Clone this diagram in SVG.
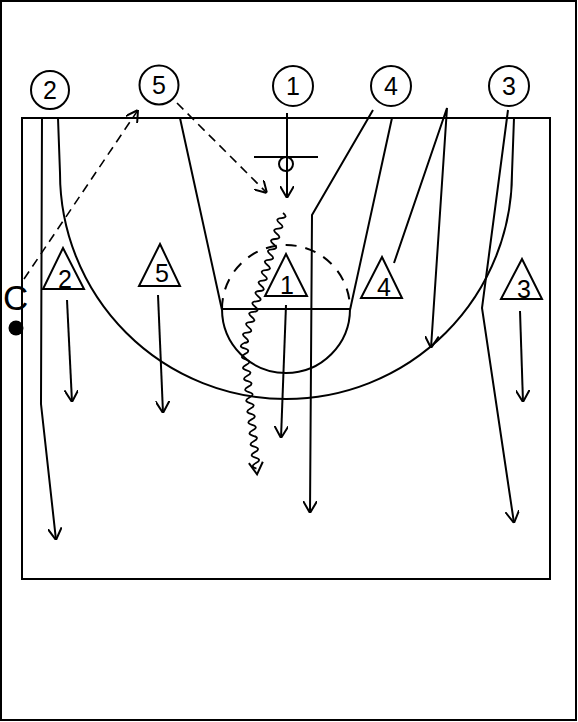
<svg xmlns="http://www.w3.org/2000/svg" width="578" height="722" viewBox="0 0 578 722">
<style>
.ln{fill:none;stroke:#000;stroke-width:2}
.dash{fill:none;stroke:#000;stroke-width:1.6;stroke-dasharray:9,6}
.off{fill:#fff;stroke:#000;stroke-width:2}
.def{fill:#fff;stroke:#000;stroke-width:2;stroke-linejoin:miter}
.num{font-family:"Liberation Sans",Arial,sans-serif;font-size:25px;fill:#000;text-anchor:middle}
.wave{fill:none;stroke:#000;stroke-width:1.8}
</style>
<defs>
<marker id="arr" viewBox="0 0 12 14" refX="12" refY="7" markerWidth="12" markerHeight="14" markerUnits="userSpaceOnUse" orient="auto">
<path d="M0,0 L12,7 L0,14" fill="none" stroke="#000" stroke-width="2" stroke-dasharray="none"/>
</marker>
</defs>
<rect x="1" y="1" width="575" height="719" fill="#fff" stroke="#000" stroke-width="2"/>
<g id="court">
<rect x="22" y="118" width="528" height="461" class="ln"/>
<path class="ln" d="M180,118 L222,310"/>
<path class="ln" d="M392,118 L350,310"/>
<path class="ln" d="M222,309 L350,309"/>
<path class="ln" d="M222,309 A64,64 0 0 0 350,309"/>
<path fill="none" stroke="#000" stroke-width="2" stroke-dasharray="11,9" d="M222,309 A64,64 0 0 1 350,309"/>
<path class="ln" stroke-width="1.8" d="M58,118 L60,173 A226,226 0 0 0 512,173 L514,118"/>
<path class="ln" d="M254,157 L318,157"/>
<circle cx="286" cy="164" r="7" class="ln"/>
</g>
<g id="connectors">
<path class="ln" marker-end="url(#arr)" d="M42,117 L41,404 L56,540"/>
<path class="dash" marker-end="url(#arr)" d="M24,279 L138,110"/>
<path class="dash" marker-end="url(#arr)" d="M177,103 L267,193"/>
<path class="ln" marker-end="url(#arr)" d="M287,113 L287,198"/>
<path class="ln" marker-end="url(#arr)" d="M373,110 L312,215 L310,513"/>
<path class="ln" marker-end="url(#arr)" d="M394,263 L447,108 L431,348"/>
<path class="ln" marker-end="url(#arr)" d="M508,110 L482,308 L514,523"/>
<path class="ln" marker-end="url(#arr)" d="M67,300 L72,402"/>
<path class="ln" marker-end="url(#arr)" d="M158,295 L163,413"/>
<path class="ln" marker-end="url(#arr)" d="M286,305 L281,438"/>
<path class="ln" marker-end="url(#arr)" d="M520,311 L523,402"/>
<g id="dribble">
<g transform="translate(283,213) rotate(106.7)">
<path class="wave" d="M0,0 q2.714,-7 5.428,0 t5.428,0 t5.428,0 t5.428,0 t5.428,0 t5.428,0 t5.428,0 t5.428,0 t5.428,0 t5.428,0 t5.428,0 t5.428,0 t5.428,0 t5.428,0 t5.428,0 t5.428,0 t5.428,0 t5.428,0 t5.428,0 t5.428,0 t5.428,0 t5.428,0 t5.428,0 t5.428,0 t5.428,0"/>
</g>
<g transform="translate(244,343) rotate(84.33)">
<path class="wave" d="M0,0 q2.742,7 5.484,0 t5.484,0 t5.484,0 t5.484,0 t5.484,0 t5.484,0 t5.484,0 t5.484,0 t5.484,0 t5.484,0 t5.484,0 t5.484,0 t5.484,0 t5.484,0 t5.484,0 t5.484,0 t5.484,0 t5.484,0 t5.484,0 t5.484,0 t5.484,0 t5.484,0 t5.484,0"/>
<path class="ln" d="M120,-7 L132,0 L120,7"/>
</g>
</g>
</g>
<g id="coach">
<text x="3" y="310" font-family="Liberation Sans, Arial, sans-serif" font-size="35" fill="#000">C</text>
<circle cx="16" cy="328" r="7.5" fill="#000"/>
</g>
<g id="o2"><circle cx="50" cy="90" r="19" class="off"/><text x="50" y="99" class="num">2</text></g>
<g id="o5"><circle cx="159" cy="85" r="19.5" class="off"/><text x="159" y="94" class="num">5</text></g>
<g id="o1"><circle cx="293" cy="86" r="20" class="off"/><text x="293" y="95" class="num">1</text></g>
<g id="o4"><circle cx="391" cy="86" r="20" class="off"/><text x="391" y="95" class="num">4</text></g>
<g id="o3"><circle cx="509" cy="86" r="20" class="off"/><text x="509" y="95" class="num">3</text></g>
<g id="d2"><polygon points="63,248 84,289 43,289" class="def"/><text x="65" y="288" class="num">2</text></g>
<g id="d5"><polygon points="160,244 180,286 139,286" class="def"/><text x="162" y="282" class="num">5</text></g>
<g id="d1"><polygon points="286,254 307,296 265,296" class="def"/><text x="287" y="294" class="num">1</text></g>
<g id="d4"><polygon points="382,257 402,298 361,298" class="def"/><text x="384" y="296" class="num">4</text></g>
<g id="d3"><polygon points="522,259 542,299 501,299" class="def"/><text x="524" y="298" class="num">3</text></g>
</svg>
